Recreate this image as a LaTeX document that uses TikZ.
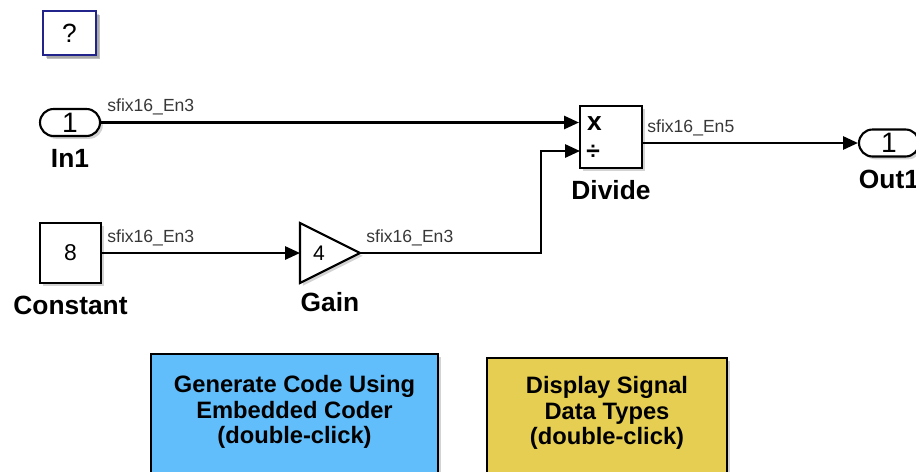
\documentclass[tikz,border=0pt]{standalone}
\usepackage{fontspec}
\setmainfont{Liberation Sans}
\usetikzlibrary{arrows.meta, positioning, shadows}
\definecolor{coderblue}{RGB}{98, 190, 250}
\definecolor{typeyellow}{RGB}{229, 206, 82}
\definecolor{helpnavy}{RGB}{35, 35, 140}
\definecolor{siggray}{RGB}{55, 55, 55}

\begin{document}
\begin{tikzpicture}[x=0.02cm, y=-0.02cm, >={Triangle[length=8.5pt, width=7.5pt]},
  blockshadow/.style={drop shadow={shadow xshift=1.6pt, shadow yshift=-1.6pt, opacity=0.35}},
  block/.style={draw, line width=1.2pt, fill=white, inner sep=0pt, blockshadow},
  port/.style={block, rounded corners=2.7mm, minimum width=1.2cm, minimum height=0.54cm, font=\fontsize{16}{16}\selectfont},
  blocklabel/.style={font=\bfseries\fontsize{15}{15}\selectfont, inner sep=0pt},
  sig/.style={font=\fontsize{10}{10}\selectfont, text=siggray, inner sep=0pt, anchor=base west},
  wire/.style={line width=1.3pt, ->},
  note/.style={draw, line width=1.2pt, inner sep=0pt, blockshadow},
  notetext/.style={font=\bfseries\fontsize{13.5}{14.7}\selectfont, align=center, inner sep=0pt}
]
  % Frame
  \useasboundingbox (0, 0) rectangle (916, 471);
  \clip (0, 0) rectangle (916, 471);

  % Help block
  \node[block, draw=helpnavy, minimum width=1.06cm, minimum height=0.88cm, font=\fontsize{15}{15}\selectfont,
    drop shadow={shadow xshift=2.4pt, shadow yshift=-2.4pt, opacity=0.5}] (help) at (69.5, 33) {?};

  % Ports
  \node[port] (in1) at (70, 122.5) {1};
  \node[blocklabel, below=6.8pt of in1] (in1name) {In1};
  \node[port] (out1) at (889, 143) {1};
  \node[blocklabel, below=6.8pt of out1] (out1name) {Out1};

  % Constant and Gain
  \node[block, minimum width=1.22cm, minimum height=1.2cm, font=\fontsize{13}{13}\selectfont] (const) at (70.5, 253) {8};
  \node[blocklabel, below=6.5pt of const] (constname) {Constant};
  \coordinate (gainin) at (300, 253);
  \coordinate (gainout) at (360, 253);
  \draw[line width=1.2pt, fill=white, blockshadow] (300, 223) -- (gainout) -- (300, 283) -- cycle;
  \node[font=\fontsize{12}{12}\selectfont, inner sep=0pt] (gain) at (319, 253) {4};
  \node[blocklabel] (gainname) at (330, 302) {Gain};

  % Divide
  \node[block, minimum size=1.24cm] (divide) at (611, 137) {};
  \node[font=\bfseries\fontsize{15}{15}\selectfont, inner sep=0pt] (times) at (594.5, 124) {x};
  \node[font=\bfseries\fontsize{14}{14}\selectfont, inner sep=0pt] (over) at (593, 152) {÷};
  \node[blocklabel, below=6.5pt of divide] (dividename) {Divide};
  \coordinate (divin1) at (divide.west |- in1);
  \coordinate (divin2) at (580, 151);
  \coordinate (bend) at (541, 253);

  % Signals
  \draw[wire] (in1) -- (divin1);
  \draw[wire] (const) -- (gainin);
  \draw[wire] (gainout) -- (bend) |- (divin2);
  \draw[wire] (divide.east |- out1) -- (out1);

  % Data type labels
  \node[sig] (in1type) at (107, 111) {sfix16\_En3};
  \node[sig] (consttype) at (107, 242) {sfix16\_En3};
  \node[sig] (gaintype) at (366, 242) {sfix16\_En3};
  \node[sig] (dividetype) at (647, 132) {sfix16\_En5};

  % Annotation boxes
  \node[note, fill=coderblue, minimum width=5.74cm, minimum height=2.6cm, anchor=north] (coder) at (294.5, 353) {};
  \node[notetext] (codertext) at (294.5, 412) {Generate Code Using\\Embedded Coder\\(double-click)};
  \node[note, fill=typeyellow, minimum width=4.8cm, minimum height=2.6cm, anchor=north] (types) at (607, 357) {};
  \node[notetext] (typestext) at (607, 413) {Display Signal\\Data Types\\(double-click)};
\end{tikzpicture}
\end{document}
